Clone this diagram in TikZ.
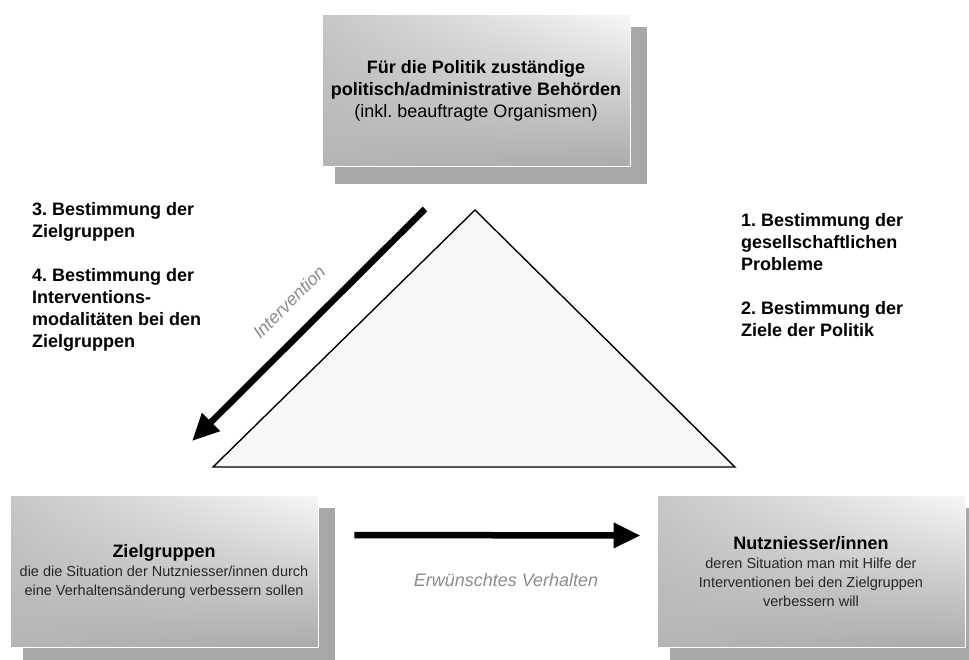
\documentclass[tikz,border=0pt]{standalone}
\usepackage{fontspec}
\setmainfont{Liberation Sans}
\usetikzlibrary{arrows.meta,shadings,backgrounds}
\frenchspacing

\begin{document}
\begin{tikzpicture}[x=1pt,y=-1pt,
  akteur/.style={minimum width=308pt,minimum height=152pt,inner sep=0pt,align=center,
    upper left=black!22,upper right=black!3,lower left=black!29,lower right=black!33,
    draw=white,line width=0.8pt,font=\fontsize{18}{22}\selectfont},
  klein/.style={font=\fontsize{14.5}{19}\selectfont,text=black!85},
  schatten/.style={fill=black!34},
  pfeil/.style={line width=6.5pt,-{Triangle[length=27pt,width=24pt]}},
  schritt/.style={anchor=north west,align=left,inner sep=0pt,font=\fontsize{18}{22}\selectfont\bfseries},
  pfeiltext/.style={text=black!45,inner sep=0pt,font=\fontsize{18}{22}\selectfont\itshape}]
\clip (0,0) rectangle (969,659);

\node[akteur] (behoerden) at (476,90.5) {{\bfseries Für die Politik zuständige}\\{\bfseries politisch/administrative Behörden}\\(inkl. beauftragte Organismen)};
\node[akteur,klein] (zielgruppen) at (164,571) {{\fontsize{18}{19}\selectfont\bfseries\color{black} Zielgruppen}\\die die Situation der Nutzniesser/innen durch\\eine Verhaltensänderung verbessern sollen};
\node[akteur,klein] (nutzniesser) at (811,571.5) {{\fontsize{18}{19}\selectfont\bfseries\color{black} Nutzniesser/innen}\\deren Situation man mit Hilfe der\\Interventionen bei den Zielgruppen\\verbessern will};

\begin{scope}[on background layer]
\foreach \k in {behoerden,zielgruppen,nutzniesser}
  \fill[schatten] ([xshift=13pt,yshift=-17pt]\k.south west) rectangle ([xshift=17pt,yshift=-13pt]\k.north east);
\end{scope}

\coordinate (spitze) at (475,210);
\coordinate (links unten) at (213,467);
\coordinate (rechts unten) at (735,467);
\draw[line width=1.4pt,fill=black!3] (spitze) -- (links unten) -- (rechts unten) -- cycle;

\coordinate (intA) at (425,209);
\coordinate (intB) at (192,441);
\draw[pfeil] (intA) -- (intB);
\node[pfeiltext,rotate=45] (intervention) at (289,302) {Intervention};

\draw[pfeil] ([xshift=36pt,yshift=36pt]zielgruppen.east) -- ([xshift=-16pt,yshift=36pt]nutzniesser.west);
\node[pfeiltext] (verhalten) at (506,580) {Erwünschtes Verhalten};

\node[schritt] (links) at (32,202) {3. Bestimmung der\\Zielgruppen\\[22pt]4. Bestimmung der\\Interventions-\\modalitäten bei den\\Zielgruppen};
\node[schritt] (rechts) at (741,213) {1. Bestimmung der\\gesellschaftlichen\\Probleme\\[22pt]2. Bestimmung der\\Ziele der Politik};
\end{tikzpicture}
\end{document}
